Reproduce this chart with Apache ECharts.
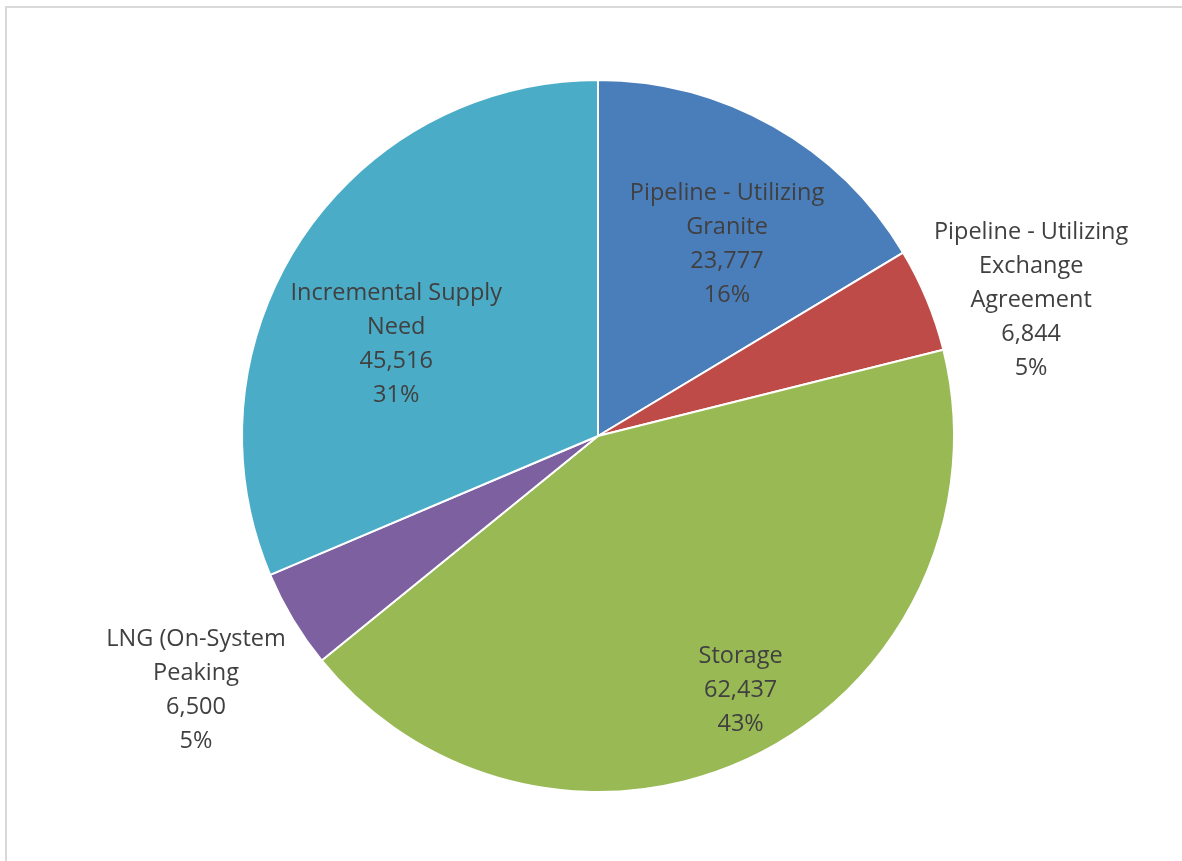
<!DOCTYPE html>
<html>
<head>
<meta charset="utf-8">
<style>
  html, body { margin: 0; padding: 0; background: #ffffff; }
  #chart { width: 1182px; height: 861px; }
</style>
<script src="https://cdn.jsdelivr.net/npm/echarts@6/dist/echarts.min.js"></script>
</head>
<body>
<div id="chart"></div>
<script>
// Peak-day supply sources
const categories = [
  'Pipeline - Utilizing\nGranite',
  'Pipeline - Utilizing\nExchange\nAgreement',
  'Storage',
  'LNG (On-System\nPeaking',
  'Incremental Supply\nNeed'
];
const values = [23777, 6844, 62437, 6500, 45516];
const colors = ['#4A7EBB', '#BE4B48', '#98B954', '#7D60A0', '#4AACC6'];

// Pie geometry
const CX = 598, CY = 436, R = 356;
// Label placement per slice: distance as a fraction of the radius, and angle nudge (degrees)
const labelDist = [0.648, 1.275, 0.82, 1.336, 0.622];
const labelTurn = [4.5, 5.1, -2.7, -1.3, -9.2];

const total = values.reduce((a, b) => a + b, 0);
const midAngles = [];
let acc = 0;
values.forEach(v => {
  const span = v / total * 360;
  midAngles.push(acc + span / 2);
  acc += span;
});

const chart = echarts.init(document.getElementById('chart'));
chart.setOption({
  backgroundColor: '#ffffff',
  animation: false,
  graphic: [{
    type: 'rect',
    shape: { x: 6, y: 7, width: 1200, height: 900 },
    style: { fill: 'none', stroke: '#d9d9d9', lineWidth: 2 },
    silent: true
  }],
  series: [{
    type: 'pie',
    center: [CX, CY],
    radius: [0, R],
    startAngle: 90,
    clockwise: true,
    avoidLabelOverlap: false,
    percentPrecision: 0,
    data: categories.map((name, i) => ({
      name: name,
      value: values[i],
      itemStyle: { color: colors[i] }
    })),
    itemStyle: { borderColor: '#ffffff', borderWidth: 2 },
    label: {
      show: true,
      position: 'inside',
      formatter: p => p.name + '\n' + p.value.toLocaleString('en-US') + '\n' + p.percent + '%',
      fontFamily: '"Open Sans", "Liberation Sans", sans-serif',
      fontSize: 23.5,
      lineHeight: 34,
      color: '#404040',
      align: 'center'
    },
    labelLine: { show: false },
    labelLayout: function (params) {
      const i = params.dataIndex;
      const a = (midAngles[i] + labelTurn[i]) * Math.PI / 180;
      const d = labelDist[i] * R;
      return {
        x: CX + d * Math.sin(a),
        y: CY - d * Math.cos(a),
        align: 'center',
        verticalAlign: 'middle'
      };
    },
    emphasis: { disabled: true }
  }]
});
</script>
</body>
</html>
